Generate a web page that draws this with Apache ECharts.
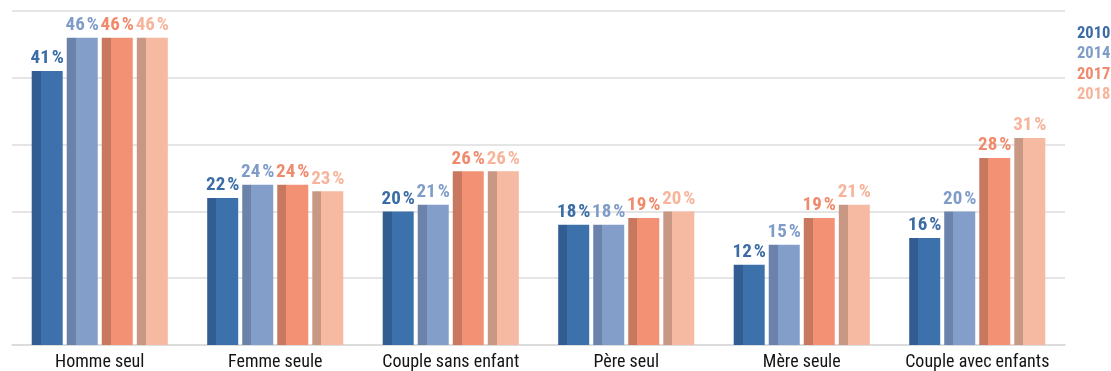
<!DOCTYPE html>
<html>
<head>
<meta charset="utf-8">
<script src="https://cdn.jsdelivr.net/npm/echarts@6/dist/echarts.min.js"></script>
<style>
html,body{margin:0;padding:0;background:#fff;}
#chart{width:1111px;height:371px;}
</style>
</head>
<body>
<div id="chart"></div>
<script>
var categories = ["Homme seul", "Femme seule", "Couple sans enfant", "Père seul", "Mère seule", "Couple avec enfants"];
var years = ["2010", "2014", "2017", "2018"];
var v2010 = [41, 22, 20, 18, 12, 16];
var v2014 = [46, 24, 21, 18, 15, 20];
var v2017 = [46, 24, 26, 19, 19, 28];
var v2018 = [46, 23, 26, 20, 21, 31];
var yTicks = [0, 10, 20, 30, 40, 50];

var FONT = '"Roboto Condensed", "Liberation Sans Narrow", sans-serif';
var palette = [
  {front: '#3d71ab', side: '#325d92', label: '#3b6ca6'},
  {front: '#829ec9', side: '#6b82aa', label: '#7f9cc9'},
  {front: '#f29174', side: '#c7785f', label: '#f08a6c'},
  {front: '#f6b9a1', side: '#c89884', label: '#f7b49b'}
];
var seriesValues = [v2010, v2014, v2017, v2018];

function barColor(p) {
  return new echarts.graphic.LinearGradient(0, 0, 1, 0, [
    {offset: 0, color: p.side},
    {offset: 0.29, color: p.side},
    {offset: 0.29, color: p.front},
    {offset: 1, color: p.front}
  ]);
}

var series = years.map(function (y, i) {
  return {
    name: y,
    type: 'bar',
    data: seriesValues[i],
    barWidth: 31,
    barGap: '13%',
    itemStyle: {color: barColor(palette[i])},
    label: {
      show: true,
      position: 'top',
      distance: 3,
      formatter: function (p) { return p.value + '\u200A%'; },
      color: palette[i].label,
      fontFamily: FONT,
      fontWeight: 'bold',
      fontSize: 19
    },
    emphasis: {disabled: true}
  };
});

var chart = echarts.init(document.getElementById('chart'), null, {renderer: 'canvas'});
chart.setOption({
  animation: false,
  backgroundColor: '#ffffff',
  grid: {left: 12, right: 46, top: 11, bottom: 25, containLabel: false},
  legend: {
    orient: 'vertical',
    left: 1067,
    top: 20,
    itemWidth: 0,
    itemHeight: 0,
    itemGap: 3,
    padding: 5,
    selectedMode: false,
    data: years.map(function (y, i) {
      return {name: y, icon: 'rect', textStyle: {color: palette[i].label}};
    }),
    textStyle: {fontFamily: FONT, fontWeight: 'bold', fontSize: 16.5, lineHeight: 17.5}
  },
  xAxis: {
    type: 'category',
    data: categories,
    axisTick: {show: false},
    axisLine: {show: true, lineStyle: {color: '#d9d9d9', width: 1.5}},
    axisLabel: {interval: 0, color: '#141414', fontFamily: FONT, fontSize: 18, margin: 8}
  },
  yAxis: {
    type: 'value',
    min: yTicks[0],
    max: yTicks[yTicks.length - 1],
    interval: yTicks[1] - yTicks[0],
    axisLabel: {show: false},
    axisLine: {show: false},
    axisTick: {show: false},
    splitLine: {lineStyle: {color: '#dcdcdc', width: 1.5}}
  },
  series: series
});
</script>
</body>
</html>
